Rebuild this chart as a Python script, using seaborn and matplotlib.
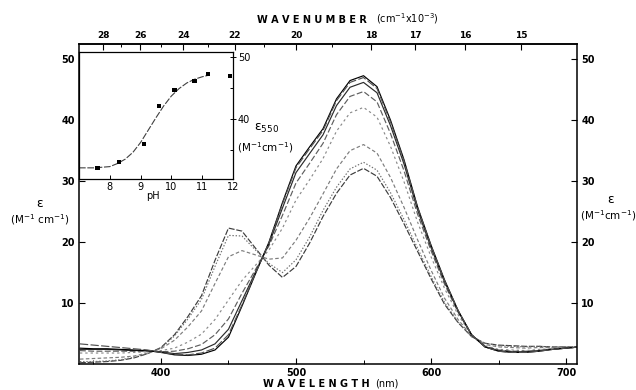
import numpy as np
import pandas as pd
import matplotlib
matplotlib.use("Agg")
import matplotlib.pyplot as plt
from matplotlib.ticker import NullFormatter, FixedLocator
import seaborn as sns

# ---------------- data ----------------
wavelength = [340, 350, 360, 370, 380, 390, 400, 410, 420, 430, 440, 450, 460, 470,
              480, 490, 500, 510, 520, 530, 540, 550, 560, 570, 580, 590, 600, 610,
              620, 630, 640, 650, 660, 670, 680, 690, 700, 710]

eps_ph7_6 = [0.2, 0.3, 0.4, 0.6, 1.0, 1.7, 2.7, 4.8, 7.8, 11.2, 17.0, 22.3, 21.8, 19.0,
             16.2, 14.2, 16.0, 19.8, 24.2, 28.0, 31.0, 32.1, 30.8, 27.3, 23.0, 18.5, 14.0, 9.8,
             6.8, 4.5, 3.4, 3.1, 3.0, 2.9, 2.9, 2.8, 2.8, 2.8]
eps_ph8_3 = [0.4, 0.4, 0.5, 0.7, 1.1, 1.7, 2.6, 4.6, 7.4, 10.6, 16.0, 21.1, 21.0, 18.7,
             16.5, 15.0, 17.1, 20.8, 25.2, 29.0, 32.0, 33.1, 31.8, 28.1, 23.7, 19.0, 14.4, 10.1,
             6.9, 4.5, 3.4, 3.0, 2.9, 2.8, 2.9, 2.8, 2.8, 2.8]
eps_ph9_1 = [0.8, 0.9, 1.0, 1.1, 1.3, 1.8, 2.5, 3.9, 6.1, 8.7, 13.2, 17.6, 18.6, 17.9,
             17.2, 17.4, 20.3, 23.9, 27.9, 32.0, 35.0, 36.0, 34.6, 30.6, 25.7, 20.4, 15.4, 10.8,
             7.3, 4.6, 3.2, 2.8, 2.7, 2.6, 2.7, 2.7, 2.8, 2.8]
eps_ph9_6 = [1.8, 1.8, 1.8, 1.8, 1.9, 2.0, 2.2, 2.6, 3.6, 4.9, 7.3, 10.5, 13.7, 16.2,
             18.7, 22.3, 26.9, 30.2, 33.7, 38.2, 41.2, 42.1, 40.5, 35.7, 29.9, 23.3, 17.6, 12.4,
             8.1, 4.7, 3.0, 2.4, 2.3, 2.2, 2.4, 2.5, 2.7, 2.8]
eps_ph10_1 = [2.2, 2.1, 2.1, 2.1, 2.1, 2.1, 2.0, 2.1, 2.5, 3.2, 4.8, 7.4, 11.6, 15.5,
              19.4, 24.4, 29.7, 32.9, 36.2, 40.9, 43.9, 44.7, 43.0, 37.8, 31.7, 24.6, 18.6, 13.1,
              8.5, 4.8, 2.9, 2.3, 2.1, 2.1, 2.2, 2.5, 2.6, 2.8]
eps_ph10_75 = [2.4, 2.4, 2.4, 2.3, 2.2, 2.2, 2.0, 1.7, 1.9, 2.3, 3.3, 5.7, 10.4, 15.1,
               19.7, 25.6, 31.4, 34.5, 37.6, 42.4, 45.4, 46.2, 44.5, 39.1, 32.8, 25.3, 19.1, 13.5,
               8.7, 4.8, 2.8, 2.2, 2.0, 2.0, 2.2, 2.4, 2.6, 2.8]
eps_ph11_2 = [2.6, 2.5, 2.5, 2.4, 2.3, 2.2, 1.9, 1.5, 1.4, 1.6, 2.3, 4.4, 9.5, 14.8,
              20.0, 26.5, 32.5, 35.6, 38.6, 43.5, 46.5, 47.3, 45.5, 40.0, 33.5, 25.8, 19.5, 13.8,
              8.8, 4.8, 2.8, 2.1, 1.9, 1.9, 2.1, 2.4, 2.6, 2.8]
eps_ph11_9 = [3.3, 3.1, 2.9, 2.7, 2.5, 2.3, 1.9, 1.6, 1.5, 1.8, 2.6, 4.8, 9.7, 14.9,
              19.9, 26.3, 32.2, 35.3, 38.3, 43.2, 46.2, 47.0, 45.2, 39.7, 33.3, 25.7, 19.4, 13.7,
              8.8, 4.8, 2.8, 2.1, 1.9, 1.9, 2.1, 2.4, 2.6, 2.8]

ph_labels = ["7.6", "8.3", "9.1", "9.6", "10.1", "10.75", "11.2", "11.9"]
spectra = [eps_ph7_6, eps_ph8_3, eps_ph9_1, eps_ph9_6, eps_ph10_1, eps_ph10_75,
           eps_ph11_2, eps_ph11_9]

# inset: titration at 550 nm
inset_ph = [7.6, 8.3, 9.1, 9.6, 10.1, 10.75, 11.2, 11.9]
inset_eps550 = [32.1, 33.1, 36.0, 42.1, 44.7, 46.1, 47.2, 46.9]
fit_ph = [7.0, 7.5, 8.0, 8.25, 8.5, 8.75, 9.0, 9.25, 9.5, 9.75, 10.0, 10.25, 10.5,
          10.75, 11.0, 11.25]
fit_eps = [32.1, 32.1, 32.3, 32.8, 33.5, 34.6, 36.2, 38.2, 40.2, 42.1, 43.7, 44.9, 45.8,
           46.4, 46.8, 47.1]

wavelength_ticks = [400, 500, 600, 700]
wavelength_minor = [350, 450, 550, 650]
eps_ticks = [10, 20, 30, 40, 50]
wavenumber_ticks = [28, 26, 24, 22, 20, 18, 17, 16, 15]
wavenumber_minor = [27, 25, 23, 21, 19]
inset_ph_ticks = [8, 9, 10, 11, 12]
inset_eps_ticks = [40, 50]
inset_eps_minor = [35, 45]

# ---------------- styling ----------------
sns.set_style("ticks")
plt.rcParams['font.family'] = ['DejaVu Sans']
plt.rcParams['mathtext.fontset'] = 'dejavusans'
for key in ['text.color', 'axes.labelcolor', 'xtick.color', 'ytick.color',
            'axes.edgecolor']:
    plt.rcParams[key] = 'black'

W, H = 636, 390
fig = plt.figure(figsize=(W / 100, H / 100), dpi=100)
fig.patch.set_facecolor('white')


def rect(l, t, r, b):
    return [l / W, 1 - b / H, (r - l) / W, (b - t) / H]


ax = fig.add_axes(rect(79, 44, 577, 364))

rows = []
for lab, ys in zip(ph_labels, spectra):
    for x, y in zip(wavelength, ys):
        rows.append((lab, x, y))
df = pd.DataFrame(rows, columns=["pH", "wavelength", "eps"])

palette = {"7.6": "#3c3c3c", "8.3": "#707070", "9.1": "#7c7c7c", "9.6": "#8a8a8a",
           "10.1": "#5e5e5e", "10.75": "#2a2a2a", "11.2": "#000000", "11.9": "#505050"}
dashes = {"7.6": (5, 1.5), "8.3": (1.2, 1.5), "9.1": (3, 2), "9.6": (2, 2.5),
          "10.1": (5, 2), "10.75": "", "11.2": "", "11.9": (7, 2)}
sns.lineplot(data=df, x="wavelength", y="eps", hue="pH", style="pH",
             hue_order=ph_labels, style_order=ph_labels,
             palette=palette, dashes=dashes, linewidth=0.85, legend=False,
             estimator=None, sort=False, ax=ax)

ax.set_xlim(339.3, 708.1)
ax.set_ylim(0, 52.5)
ax.set_xlabel("")
ax.set_ylabel("")
ax.set_xticks(wavelength_ticks)
ax.set_xticks(wavelength_minor, minor=True)
ax.set_yticks(eps_ticks)
ax.tick_params(axis='x', which='major', direction='in', length=4, width=0.8,
               labelsize=7, pad=3, colors='black')
ax.tick_params(axis='x', which='minor', direction='in', length=3, width=0.7,
               colors='black')
ax.tick_params(axis='y', which='major', direction='in', left=True, right=True,
               labelleft=True, labelright=True, length=4, width=0.8, labelsize=7,
               pad=3, colors='black')
for sp in ax.spines.values():
    sp.set_visible(True)
    sp.set_linewidth(1.1)
    sp.set_color('black')
for t in ax.xaxis.get_major_ticks() + ax.yaxis.get_major_ticks():
    t.label1.set_fontweight('bold')
    t.label2.set_fontweight('bold')


def nm_to_wn(x):
    x = np.asarray(x, dtype=float)
    with np.errstate(divide='ignore', invalid='ignore'):
        return np.where(x != 0, 1e4 / np.where(x != 0, x, 1), np.inf)


sec = ax.secondary_xaxis('top', functions=(nm_to_wn, nm_to_wn))
sec.xaxis.set_major_locator(FixedLocator(wavenumber_ticks))
sec.set_xticklabels([str(v) for v in wavenumber_ticks])
sec.xaxis.set_minor_locator(FixedLocator(wavenumber_minor))
sec.xaxis.set_minor_formatter(NullFormatter())
sec.tick_params(axis='x', which='major', direction='in', length=4, width=0.8,
                labelsize=6.5, pad=3, colors='black')
sec.tick_params(axis='x', which='minor', direction='in', length=2.5, width=0.7,
                colors='black')
sec.spines['top'].set_linewidth(1.1)
sec.spines['top'].set_color('black')
for t in sec.xaxis.get_major_ticks():
    t.label2.set_fontweight('bold')
    t.label1.set_fontweight('bold')

# axis titles
fig.text(312 / W, 1 - 20 / H, "W A V E N U M B E R", ha='center', va='center',
         fontsize=7, fontweight='bold', color='black')
fig.text(407 / W, 1 - 19 / H, r"(cm$^{-1}$x10$^{-3}$)", ha='center', va='center',
         fontsize=7, color='black')
fig.text(316 / W, 1 - 384 / H, "W A V E L E N G T H", ha='center', va='center',
         fontsize=7, fontweight='bold', color='black')
fig.text(387 / W, 1 - 384 / H, "(nm)", ha='center', va='center', fontsize=7,
         color='black')
fig.text(40 / W, 1 - 203 / H, "ε", ha='center', va='center', fontsize=9, color='black')
fig.text(40 / W, 1 - 220 / H, r"(M$^{-1}$ cm$^{-1}$)", ha='center', va='center',
         fontsize=7.5, color='black')
fig.text(611 / W, 1 - 200 / H, "ε", ha='center', va='center', fontsize=9, color='black')
fig.text(608 / W, 1 - 216 / H, r"(M$^{-1}$cm$^{-1}$)", ha='center', va='center',
         fontsize=7.5, color='black')

# ---------------- inset ----------------
ax_in = fig.add_axes(rect(79, 52, 233, 179))
ax_in.set_facecolor('white')
ax_in.set_zorder(3)
sns.lineplot(x=fit_ph, y=fit_eps, ax=ax_in, color='#404040', linewidth=0.8,
             linestyle=(0, (6, 1.5)))
sns.scatterplot(x=inset_ph, y=inset_eps550, ax=ax_in, color='black', s=9,
                marker='s', edgecolor='none', zorder=4)
ax_in.set_xlim(7, 12)
ax_in.set_ylim(30.3, 50.8)
ax_in.set_xticks(inset_ph_ticks)
ax_in.yaxis.tick_right()
ax_in.set_yticks(inset_eps_ticks)
ax_in.set_yticks(inset_eps_minor, minor=True)
ax_in.tick_params(axis='x', direction='in', length=3, width=0.7, labelsize=7, pad=2,
                  colors='black')
ax_in.tick_params(axis='y', which='major', direction='inout', length=4, width=0.7,
                  labelsize=7, pad=1.5, left=False, right=True, colors='black')
ax_in.tick_params(axis='y', which='minor', direction='in', length=2.5, width=0.7,
                  left=False, right=True, colors='black')
for sp in ax_in.spines.values():
    sp.set_visible(True)
    sp.set_linewidth(0.9)
    sp.set_color('black')
ax_in.set_xlabel("")
ax_in.set_ylabel("")
for t in ax_in.xaxis.get_major_ticks() + ax_in.yaxis.get_major_ticks():
    t.label1.set_fontweight('normal')
    t.label2.set_fontweight('normal')

fig.text(153 / W, 1 - 196 / H, "pH", ha='center', va='center', fontsize=7, color='black')
fig.text(267 / W, 1 - 128 / H, "ε$_{550}$", ha='center', va='center', fontsize=9,
         color='black')
fig.text(265 / W, 1 - 148 / H, r"(M$^{-1}$cm$^{-1}$)", ha='center', va='center',
         fontsize=7.5, color='black')

fig.savefig("out.png", dpi=100, facecolor='white')
